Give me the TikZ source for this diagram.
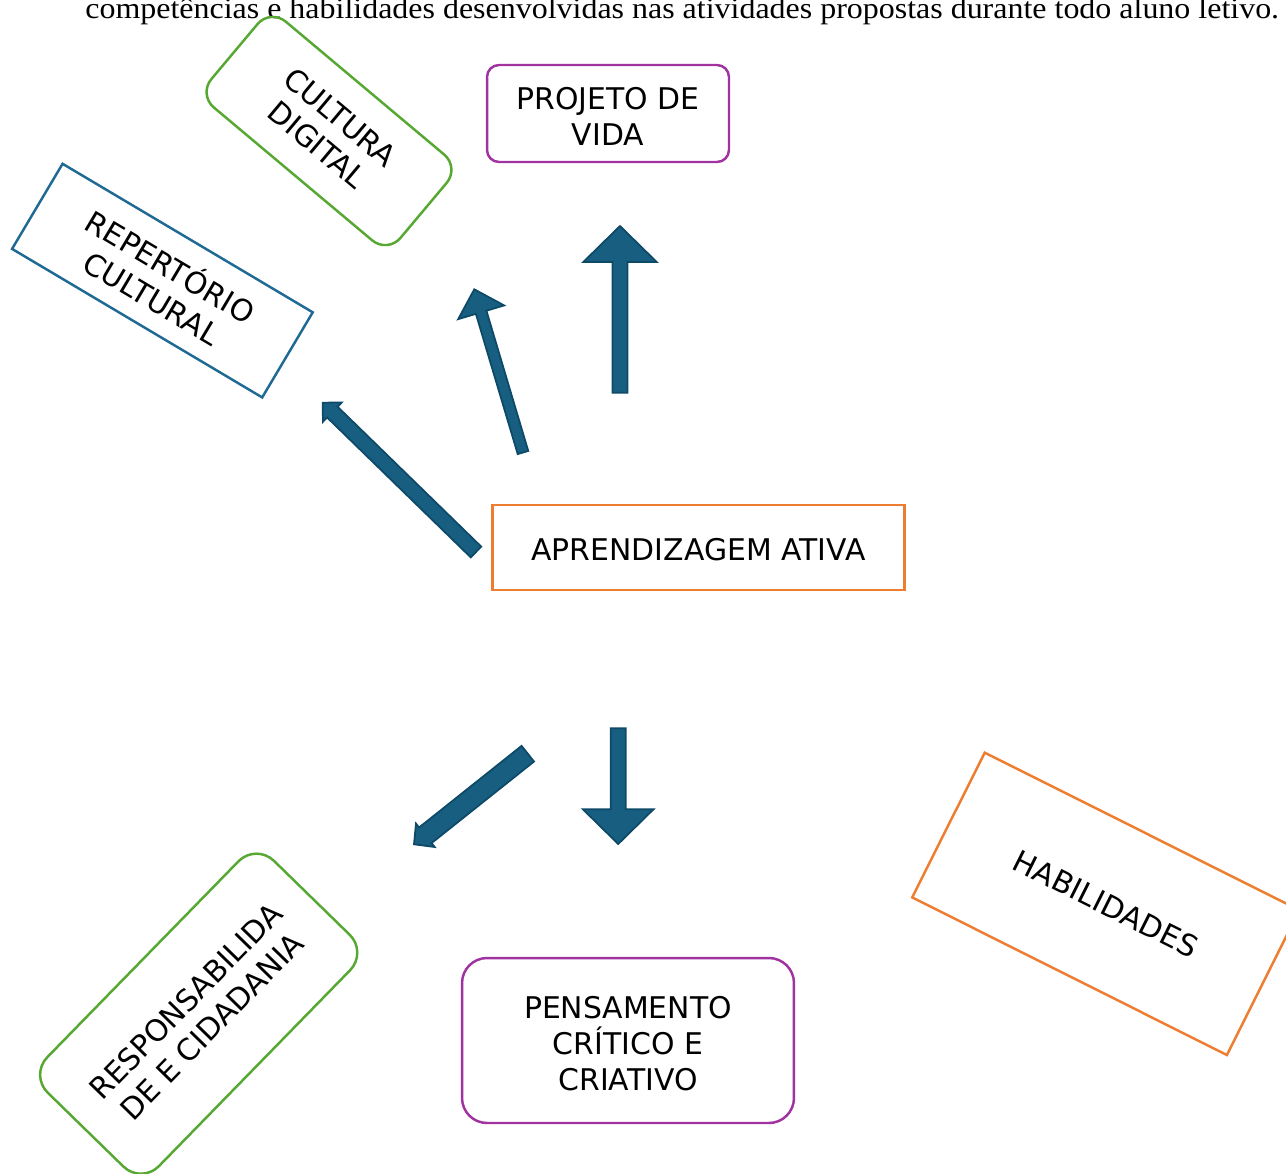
\documentclass[tikz,border=0pt]{standalone}
\usepackage{fontspec}
\setmainfont{DejaVu Sans}
\newfontfamily\hdrfont{Liberation Serif}
\usetikzlibrary{calc}
\definecolor{arrowfill}{HTML}{175E80}
\definecolor{arrowedge}{HTML}{0E4A68}
\definecolor{boxpurple}{HTML}{A033A0}
\definecolor{boxgreen}{HTML}{57A832}
\definecolor{boxblue}{HTML}{1F6A94}
\definecolor{boxorange}{HTML}{ED7D31}
\newcommand\lowstrut{\rule{0pt}{16pt}}
% tail, tip, shaft half width, head half width, head length
\newcommand\blockarrow[5]{%
  \path ($(#2)!#5!(#1)$) coordinate (hb);
  \filldraw[arrowstyle] ($(#1)!#3!90:(#2)$) -- ($(hb)!#3!90:(#2)$) -- ($(hb)!#4!90:(#2)$) -- (#2)
    -- ($(hb)!#4!-90:(#2)$) -- ($(hb)!#3!-90:(#2)$) -- ($(#1)!#3!-90:(#2)$) -- cycle;}
\begin{document}
\begin{tikzpicture}[x=0.02cm,y=-0.02cm,
  lbl/.style={font=\fontsize{17}{20.5}\selectfont, align=center, inner sep=0pt, line width=1.4pt, text=black},
  flat/.style={text height=15.5pt},
  arrowstyle/.style={fill=arrowfill, draw=arrowedge, line width=1pt, line join=miter}]
\useasboundingbox (0,0) rectangle (1286,1174);
\clip (0,0) rectangle (1286,1174);
\fill[white] (0,0) rectangle (1286,1174);

\node[anchor=base west, inner sep=0pt, xscale=1.07, font=\hdrfont\fontsize{17}{20}\selectfont] (hdr) at (85,18.5)
  {competências e habilidades desenvolvidas nas atividades propostas durante todo aluno letivo.};

\node[lbl, draw=boxpurple, rounded corners=0.24cm, minimum width=4.84cm, minimum height=1.94cm] (vida) at (608,113.5) {\lowstrut PROJETO DE\\VIDA};
\node[lbl, draw=boxgreen, rounded corners=0.4cm, minimum width=4.94cm, minimum height=2.24cm, rotate=-40] (digital) at (329,131) {CULTURA\\DIGITAL};
\node[lbl, draw=boxblue, minimum width=5.82cm, minimum height=1.98cm, rotate=-30.7] (repert) at (162.4,280.6) {REPERTÓRIO\\CULTURAL};
\node[lbl, flat, draw=boxorange, minimum width=8.25cm, minimum height=1.7cm] (ativa) at (698.5,547.5) {APRENDIZAGEM ATIVA};
\node[lbl, draw=boxpurple, rounded corners=0.5cm, minimum width=6.64cm, minimum height=3.3cm] (pensa) at (628,1040.5) {\lowstrut PENSAMENTO\\CRÍTICO E\\CRIATIVO};
\node[lbl, draw=boxgreen, rounded corners=0.5cm, minimum width=6.48cm, minimum height=3.12cm, rotate=45.7] (resp) at (198.7,1013.7) {RESPONSABILIDA\\DE E CIDADANIA};
\node[lbl, draw=boxorange, minimum width=7.04cm, minimum height=3.24cm, rotate=-26.6] (habil) at (1105.8,903.8) {HABILIDADES};

\coordinate (aT) at (620,392.7);   \coordinate (aH) at (620,226);
\coordinate (bT) at (476,552);     \coordinate (bH) at (322.7,402.7);
\coordinate (cT) at (523,452.5);   \coordinate (cH) at (474.3,289.3);
\coordinate (dT) at (527.8,753.7); \coordinate (dH) at (414,844.3);
\coordinate (eT) at (618.2,728.3); \coordinate (eH) at (618.2,844);

\blockarrow{aT}{aH}{0.152cm}{0.734cm}{0.72cm}
\blockarrow{bT}{bH}{0.15cm}{0.27cm}{0.27cm}
\blockarrow{cT}{cH}{0.11cm}{0.48cm}{0.48cm}
\blockarrow{dT}{dH}{0.2cm}{0.3cm}{0.29cm}
\blockarrow{eT}{eH}{0.15cm}{0.706cm}{0.694cm}
\end{tikzpicture}
\end{document}
